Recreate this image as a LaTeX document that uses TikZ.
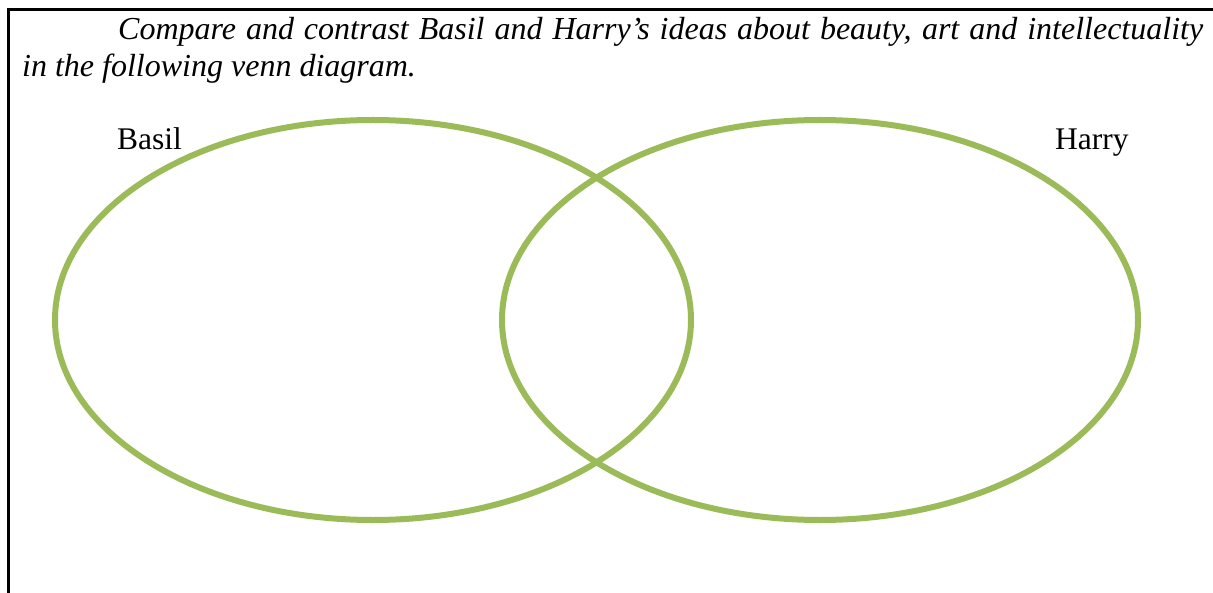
\documentclass[tikz,border=0pt]{standalone}
\usepackage{fontspec}
\setmainfont{Liberation Serif}
\usetikzlibrary{shapes.geometric}
\definecolor{venngreen}{HTML}{9BBB59}
\begin{document}
\begin{tikzpicture}[x=1bp,y=-1bp,
  vennset/.style={ellipse, draw=venngreen, line width=6bp, inner sep=0pt,
    minimum width=636bp, minimum height=400bp},
  label/.style={inner sep=0pt, font=\fontsize{31.5bp}{38bp}\selectfont},
  frame/.style={line width=3bp, black}]
\useasboundingbox (0,0) rectangle (1213,593);
\draw[frame] (1213,10) -- (8,10) -- (8,593);
\node[label, anchor=base west] (q1) at (118,40) {\fontsize{32bp}{38bp}\selectfont\itshape\makebox[1085bp][s]{Compare and contrast Basil and Harry’s ideas about beauty, art and intellectuality}};
\node[label, anchor=base west] (q2) at (22,77) {\fontsize{32bp}{38bp}\selectfont\itshape in the following venn diagram.};
\node[vennset] (basilset) at (373,320) {};
\node[vennset] (harryset) at (820,320) {};
\node[label, anchor=base west] (basil) at (117,150) {Basil};
\node[label, anchor=base west] (harry) at (1055,150) {Harry};
\end{tikzpicture}
\end{document}
